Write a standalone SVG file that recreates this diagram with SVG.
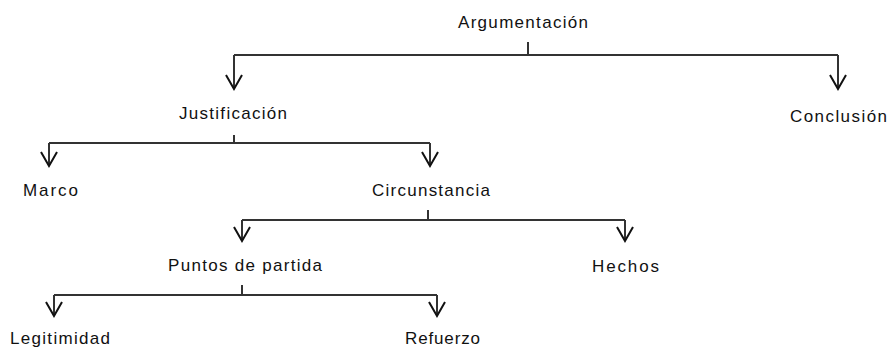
<svg xmlns="http://www.w3.org/2000/svg" width="891" height="347" viewBox="0 0 891 347">
<style>
.t{font-family:"Liberation Sans",Arial,sans-serif;font-size:17px;fill:#111}
.c{fill:none;stroke:#333;stroke-width:2}
.a{fill:none;stroke:#333;stroke-width:2;marker-end:url(#v)}
</style>
<defs>
<marker id="v" markerUnits="userSpaceOnUse" markerWidth="20" markerHeight="20" viewBox="-16 -10 18 20" refX="0" refY="0" orient="auto" overflow="visible">
<path d="M-14,-8 L0,0 L-14,8" fill="none" stroke="#111" stroke-width="2"/>
</marker>
</defs>
<rect width="891" height="347" fill="#fff"/>
<g id="connectors">
<path class="c" d="M528 42 V55 M234 55 H838"/>
<path class="a" d="M234 55 V89"/>
<path class="a" d="M838 55 V89"/>
<path class="c" d="M234 135 V143 M49 143 H430"/>
<path class="a" d="M49 143 V166"/>
<path class="a" d="M430 143 V166"/>
<path class="c" d="M428 210 V220 M242 220 H625"/>
<path class="a" d="M242 220 V241"/>
<path class="a" d="M625 220 V241"/>
<path class="c" d="M242 285 V295 M54 295 H437"/>
<path class="a" d="M54 295 V316"/>
<path class="a" d="M437 295 V316"/>
</g>
<g id="argumentacion"><text class="t" x="458" y="28" textLength="130" lengthAdjust="spacing">Argumentación</text></g>
<g id="justificacion"><text class="t" x="179" y="119" textLength="108" lengthAdjust="spacing">Justificación</text></g>
<g id="conclusion"><text class="t" x="790" y="122" textLength="97" lengthAdjust="spacing">Conclusión</text></g>
<g id="marco"><text class="t" x="23" y="196" textLength="55" lengthAdjust="spacing">Marco</text></g>
<g id="circunstancia"><text class="t" x="372" y="196" textLength="118" lengthAdjust="spacing">Circunstancia</text></g>
<g id="puntos"><text class="t" x="168" y="271" textLength="154" lengthAdjust="spacing">Puntos de partida</text></g>
<g id="hechos"><text class="t" x="592" y="272" textLength="67" lengthAdjust="spacing">Hechos</text></g>
<g id="legitimidad"><text class="t" x="10" y="344" textLength="100" lengthAdjust="spacing">Legitimidad</text></g>
<g id="refuerzo"><text class="t" x="405" y="344" textLength="75" lengthAdjust="spacing">Refuerzo</text></g>
</svg>
